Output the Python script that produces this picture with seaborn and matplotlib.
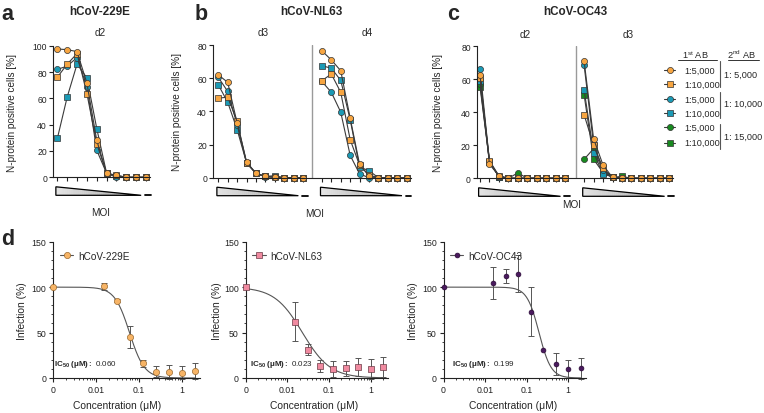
import numpy as np
import pandas as pd
import matplotlib
matplotlib.use("Agg")
import matplotlib.pyplot as plt
import seaborn as sns
from matplotlib.lines import Line2D
from matplotlib.patches import Polygon
from matplotlib import transforms as mtransforms
from matplotlib.colors import to_rgb
from matplotlib.ticker import LogLocator, NullFormatter, MultipleLocator

# ---------------- data ----------------
moi_pos = list(range(10))

# panel a: hCoV-229E, d2
a_o_circ = [97.5, 97, 95.5, 71.5, 28, 3, 1.5, 0, 0, 0]
a_o_sq   = [76, 86, 94, 63.5, 25.5, 3, 1.5, 0, 0, 0]
a_t_circ = [82, 84.5, 91, 68.5, 20.5, 3, 0, 0, 0, 0]
a_t_sq   = [29.5, 61, 86, 75.5, 37, 3, 1, 0, 0, 0]

# panel b: hCoV-NL63, d3 / d4
b3_o_circ = [62, 57.5, 33, 9.6, 2.6, 0.8, 0.3, 0, 0, 0]
b3_o_sq   = [48, 48.5, 34, 9.0, 2.6, 0.8, 0.3, 0, 0, 0]
b3_t_circ = [60.5, 52, 32, 8.8, 2.6, 0.5, 0.3, 0, 0, 0]
b3_t_sq   = [56, 45.5, 29, 9.0, 2.6, 0.8, 1.2, 0, 0, 0]
b4_o_circ = [76.5, 71, 64.5, 36, 8, 1, 0, 0, 0, 0]
b4_o_sq   = [58.5, 62.5, 51.5, 23, 7.5, 1.6, 0, 0, 0, 0]
b4_t_circ = [58, 51.5, 39.5, 13.5, 2.3, 0, 0, 0, 0, 0]
b4_t_sq   = [67.5, 66, 58.7, 35, 6.5, 4.2, 0, 0, 0, 0]

# panel c: hCoV-OC43, d2 / d3
c2_o_circ = [62.5, 8.5, 1.5, 0, 0, 0, 0, 0, 0, 0]
c2_o_sq   = [61, 10.7, 1.5, 0, 0, 0, 0, 0, 0, 0]
c2_t_circ = [66, 10, 1, 0, 0, 0, 0, 0, 0, 0]
c2_t_sq   = [59, 10, 1, 0, 0, 0, 0, 0, 0, 0]
c2_g_circ = [57, 10, 1, 0, 3.3, 0, 0, 0, 0, 0]
c2_g_sq   = [55.5, 10, 1, 0, 0, 0, 0, 0, 0, 0]
c3_o_circ = [71, 24, 8, 0.5, 0, 0, 0, 0, 0, 0]
c3_o_sq   = [38.5, 20, 6, 0.5, 0, 0, 0, 0, 0, 0]
c3_t_circ = [68.5, 20.5, 5, 0.5, 0, 0, 0, 0, 0, 0]
c3_t_sq   = [53.5, 15.5, 2.5, 1, 0, 0, 0, 0, 0, 0]
c3_g_circ = [11.5, 18, 4, 0.5, 0, 0, 0, 0, 0, 0]
c3_g_sq   = [50.5, 11.5, 3.5, 0.5, 1.2, 0, 0, 0, 0, 0]

legend_first_ab = ["1:5,000", "1:10,000", "1:5,000", "1:10,000", "1:5,000", "1:10,000"]
legend_second_ab = ["1: 5,000", "1: 10,000", "1: 15,000"]

# panel d: dose response
conc = [0, 0.015625, 0.03125, 0.0625, 0.125, 0.25, 0.5, 1, 2]
e229_mean = [100, 101, 85, 45.5, 16, 7, 6.5, 6, 7.5]
e229_sd   = [0, 4, 1.5, 12, 3.5, 6, 7.5, 7.5, 9]
nl63_mean = [100, 62, 31, 13.5, 10, 10.6, 12, 9.5, 12]
nl63_sd   = [0, 21.5, 6, 6.5, 8.5, 8.5, 9.5, 11, 11]
oc43_mean = [100, 104.5, 112.5, 115, 73, 31, 15.5, 9.5, 10.5]
oc43_sd   = [0, 18, 8, 20, 27, 0, 12, 10, 12]
ic50 = {"hCoV-229E": 0.060, "hCoV-NL63": 0.023, "hCoV-OC43": 0.199}
hill = {"hCoV-229E": 2.5, "hCoV-NL63": 1.3, "hCoV-OC43": 3.0}

# ---------------- style ----------------
sns.set_style("ticks")
plt.rcParams["font.family"] = ["Liberation Sans", "DejaVu Sans"]
plt.rcParams["mathtext.fontset"] = "custom"
plt.rcParams["mathtext.rm"] = "Liberation Sans"
plt.rcParams["mathtext.bf"] = "Liberation Sans:bold"
plt.rcParams["mathtext.it"] = "Liberation Sans:italic"

COL = {"o": "#F7A541", "t": "#1B9AB5", "g": "#188A1F"}
MK = {"circ": "o", "sq": "s"}
LINE_C = "#3a3a3a"
EDGE_C = "#333333"

W, H = 764, 414
fig = plt.figure(figsize=(W / 100, H / 100), dpi=100)


def rect(l, t, r, b):
    return [l / W, 1 - b / H, (r - l) / W, (b - t) / H]


def ftext(x, y, s, **kw):
    return fig.text(x / W, 1 - y / H, s, **kw)


ax_a = fig.add_axes(rect(53.3, 46.7, 150.5, 178.3))
ax_b = fig.add_axes(rect(213.3, 46.0, 411.0, 178.7))
ax_c = fig.add_axes(rect(477.0, 47.3, 672.7, 179.3))
ax_d1 = fig.add_axes(rect(53.3, 242.7, 200.3, 379.0))
ax_d2 = fig.add_axes(rect(245.7, 242.7, 388.5, 379.0))
ax_d3 = fig.add_axes(rect(443.5, 242.7, 586.0, 379.0))


def draw_series(ax, xs, ys, col, mk):
    df = pd.DataFrame({"x": xs, "y": ys})
    sns.lineplot(data=df, x="x", y="y", ax=ax, color=LINE_C, linewidth=0.8,
                 marker=MK[mk], markersize=4.4 if mk == "circ" else 4.1,
                 markerfacecolor=COL[col], markeredgecolor=EDGE_C,
                 markeredgewidth=0.5, clip_on=False, estimator=None,
                 errorbar=None, legend=False)


def style_top(ax, ymax, xlim, ticks):
    ax.set_ylim(0, ymax)
    ax.set_xlim(*xlim)
    ax.set_yticks(np.arange(0, ymax + 1, 20))
    ax.set_xticks(ticks)
    ax.set_xticklabels([])
    ax.tick_params(axis="both", direction="out", length=3, width=0.8,
                   labelsize=6.2, pad=1.5, colors="#222222")
    for s in ["top", "right"]:
        ax.spines[s].set_visible(False)
    for s in ["left", "bottom"]:
        ax.spines[s].set_linewidth(0.8)
        ax.spines[s].set_color("#222222")
    ax.set_xlabel("")
    ax.set_ylabel("")


def wedge(ax, start):
    h_px = ax.get_position().height * H
    trans = mtransforms.blended_transform_factory(ax.transData, ax.transAxes)
    x0, x1 = start - 0.15, start + 8.5
    yt, yb = -9.5 / h_px, -18.0 / h_px
    n = 40
    c0, c1 = np.array(to_rgb("#e4e4e4")), np.array(to_rgb("#a4a4a4"))
    for i in range(n):
        fa, fb = i / n, (i + 1) / n
        xa, xb = x0 + (x1 - x0) * fa, x0 + (x1 - x0) * fb
        ya, yb2 = yb + (yt - yb) * (1 - fa), yb + (yt - yb) * (1 - fb)
        col = c0 + (c1 - c0) * (fa + fb) / 2
        ax.add_patch(Polygon([(xa, yb), (xb, yb), (xb, yb2), (xa, ya)], closed=True,
                             transform=trans, facecolor=col, edgecolor=col, lw=0.3,
                             clip_on=False))
    ax.add_patch(Polygon([(x0, yb), (x1, yb), (x0, yt)], closed=True, transform=trans,
                         facecolor="none", edgecolor="#000000", lw=0.9, clip_on=False))
    ax.add_line(Line2D([start + 8.9, start + 9.5], [yb, yb], transform=trans,
                       color="#000000", lw=1.3, clip_on=False))


order = [("g", "sq"), ("g", "circ"), ("t", "sq"), ("t", "circ"), ("o", "sq"), ("o", "circ")]

# ---- panel a ----
a_series = {("o", "circ"): a_o_circ, ("o", "sq"): a_o_sq,
            ("t", "circ"): a_t_circ, ("t", "sq"): a_t_sq}
for key in order:
    if key in a_series:
        draw_series(ax_a, moi_pos, a_series[key], *key)
style_top(ax_a, 100, (-0.41, 9.45), moi_pos)
wedge(ax_a, 0)

# ---- panel b ----
pos_d4 = [p + 11 for p in moi_pos]
b3 = {("o", "circ"): b3_o_circ, ("o", "sq"): b3_o_sq,
      ("t", "circ"): b3_t_circ, ("t", "sq"): b3_t_sq}
b4 = {("o", "circ"): b4_o_circ, ("o", "sq"): b4_o_sq,
      ("t", "circ"): b4_t_circ, ("t", "sq"): b4_t_sq}
for key in order:
    if key in b3:
        draw_series(ax_b, moi_pos, b3[key], *key)
        draw_series(ax_b, pos_d4, b4[key], *key)
style_top(ax_b, 80, (-0.53, 20.46), moi_pos + pos_d4)
ax_b.axvline(10, color="#9a9a9a", lw=1.0, zorder=0.5)
wedge(ax_b, 0)
wedge(ax_b, 11)

# ---- panel c ----
c2 = {("o", "circ"): c2_o_circ, ("o", "sq"): c2_o_sq, ("t", "circ"): c2_t_circ,
      ("t", "sq"): c2_t_sq, ("g", "circ"): c2_g_circ, ("g", "sq"): c2_g_sq}
c3 = {("o", "circ"): c3_o_circ, ("o", "sq"): c3_o_sq, ("t", "circ"): c3_t_circ,
      ("t", "sq"): c3_t_sq, ("g", "circ"): c3_g_circ, ("g", "sq"): c3_g_sq}
for key in order:
    draw_series(ax_c, moi_pos, c2[key], *key)
    draw_series(ax_c, pos_d4, c3[key], *key)
style_top(ax_c, 80, (-0.32, 20.36), moi_pos + pos_d4)
ax_c.axvline(10.1, color="#9a9a9a", lw=1.0, zorder=0.5)
wedge(ax_c, 0)
wedge(ax_c, 11)

# ---- top labels ----
ylab = "N-protein positive cells [%]"
ftext(12, 112.5, ylab, rotation=90, ha="center", va="center", fontsize=7.2)
ftext(177, 112.3, ylab, rotation=90, ha="center", va="center", fontsize=7.2)
ftext(438, 113.3, ylab, rotation=90, ha="center", va="center", fontsize=7.2)
ftext(101, 213, "MOI", ha="center", va="center", fontsize=7.2)
ftext(315, 214, "MOI", ha="center", va="center", fontsize=7.2)
ftext(572, 205, "MOI", ha="center", va="center", fontsize=7.2)
ftext(100, 33, "d2", ha="center", va="center", fontsize=7.2)
ftext(263, 33, "d3", ha="center", va="center", fontsize=7.2)
ftext(366.7, 33, "d4", ha="center", va="center", fontsize=7.2)
ftext(525, 34.5, "d2", ha="center", va="center", fontsize=7.2)
ftext(628, 34.5, "d3", ha="center", va="center", fontsize=7.2)
ftext(100, 15, "hCoV-229E", ha="center", va="baseline", fontsize=8.4, fontweight="bold")
ftext(311.7, 15, "hCoV-NL63", ha="center", va="baseline", fontsize=8.4, fontweight="bold")
ftext(575, 15, "hCoV-OC43", ha="center", va="baseline", fontsize=8.4, fontweight="bold")
ftext(1.5, 20, "a", ha="left", va="baseline", fontsize=15.5, fontweight="bold")
ftext(194.5, 20.5, "b", ha="left", va="baseline", fontsize=15.5, fontweight="bold")
ftext(447, 20, "c", ha="left", va="baseline", fontsize=15.5, fontweight="bold")
ftext(1.5, 245, "d", ha="left", va="baseline", fontsize=15.5, fontweight="bold")

# ---- custom legend for panel c ----
ftext(695, 55, r"1$^{\mathrm{st}}$ AB", ha="center", va="center", fontsize=6.6)
ftext(741.7, 55, r"2$^{\mathrm{nd}}$ AB", ha="center", va="center", fontsize=6.6)


def fline(x0, y0, x1, y1, **kw):
    fig.add_artist(Line2D([x0 / W, x1 / W], [1 - y0 / H, 1 - y1 / H],
                          transform=fig.transFigure, **kw))


fline(678.3, 61.2, 716.7, 61.2, color="#333333", lw=0.7)
fline(728.3, 61.2, 759.3, 61.2, color="#333333", lw=0.7)
entry_keys = [("o", "circ"), ("o", "sq"), ("t", "circ"), ("t", "sq"), ("g", "circ"), ("g", "sq")]
entry_y = [71, 85, 100, 114.3, 128.3, 143.5]
for (col, mk), yy, lab in zip(entry_keys, entry_y, legend_first_ab):
    fline(664, yy, 675, yy, color=LINE_C, lw=0.8)
    fig.add_artist(Line2D([669.5 / W], [1 - yy / H], transform=fig.transFigure,
                          marker=MK[mk], markersize=4.4 if mk == "circ" else 4.1,
                          markerfacecolor=COL[col], markeredgecolor=EDGE_C,
                          markeredgewidth=0.5, linestyle="none"))
    ftext(684, yy, lab, ha="left", va="center", fontsize=6.6)
for (y0, y1), yt, lab in zip([(62, 87.5), (93, 118.5), (125, 150)], [75, 104.3, 137.7],
                             legend_second_ab):
    fline(720, y0, 720, y1, color="#555555", lw=0.8)
    ftext(723.5, yt, lab, ha="left", va="center", fontsize=6.6)

# ---- panel d ----
ZERO_POS = 0.001
conc_plot = [c if c > 0 else ZERO_POS for c in conc]
d_specs = [
    (ax_d1, "hCoV-229E", e229_mean, e229_sd, "o", "#F7B466", "#9a6a30", 20, 0.007, 0.060),
    (ax_d2, "hCoV-NL63", nl63_mean, nl63_sd, "s", "#F08AA0", "#6a3a44", 18, 0.030, 0.023),
    (ax_d3, "hCoV-OC43", oc43_mean, oc43_sd, "o", "#4A1A5E", "#2a0a36", 12, 0.058, 0.199),
]
xs_fit = np.logspace(np.log10(ZERO_POS), np.log10(2), 300)
for ax, name, mean, sd, mk, fc, ec, s, ic_x, icv in d_specs:
    ax.set_xscale("log")
    ys_fit = 100 / (1 + (xs_fit / ic50[name]) ** hill[name])
    sns.lineplot(x=xs_fit, y=ys_fit, ax=ax, color="#555555", linewidth=0.8,
                 estimator=None, errorbar=None, legend=False)
    nz = [i for i in range(len(conc)) if sd[i] > 0]
    ax.errorbar([conc_plot[i] for i in nz], [mean[i] for i in nz],
                yerr=[sd[i] for i in nz], fmt="none", ecolor="#555555",
                elinewidth=0.7, capsize=2.0, capthick=0.7, clip_on=False, zorder=2)
    sns.scatterplot(x=conc_plot, y=mean, ax=ax, marker=mk, s=s, color=fc,
                    edgecolor=ec, linewidth=0.5, clip_on=False, zorder=3, legend=False)
    ax.set_xlim(ZERO_POS, 10 ** 0.43)
    ax.set_ylim(0, 150)
    ax.set_yticks([0, 50, 100, 150])
    ax.yaxis.set_minor_locator(MultipleLocator(10))
    ax.set_xticks([ZERO_POS, 0.01, 0.1, 1])
    ax.set_xticklabels(["0", "0.01", "0.1", "1"])
    ax.xaxis.set_minor_locator(LogLocator(base=10, subs=np.arange(2, 10)))
    ax.xaxis.set_minor_formatter(NullFormatter())
    ax.tick_params(axis="both", which="major", direction="out", length=3, width=0.8,
                   labelsize=6.3, pad=2, colors="#222222")
    ax.tick_params(axis="both", which="minor", direction="out", length=1.7, width=0.6,
                   colors="#222222")
    for sp in ["top", "right"]:
        ax.spines[sp].set_visible(False)
    for sp in ["left", "bottom"]:
        ax.spines[sp].set_linewidth(0.8)
        ax.spines[sp].set_color("#222222")
    ax.set_xlabel("")
    ax.set_ylabel("")
    handle = Line2D([], [], color="#555555", lw=0.8, marker=mk,
                    markersize=np.sqrt(s), markerfacecolor=fc, markeredgecolor=ec,
                    markeredgewidth=0.5)
    ax.legend(handles=[handle], labels=[name], loc="upper left",
              bbox_to_anchor=(0.045, 0.935), borderaxespad=0, borderpad=0,
              frameon=False, handlelength=1.35, handletextpad=0.5, fontsize=7.2)
    ax.text(ic_x, 0.103, r"$\mathbf{IC_{50}\ (μM):}$ " + f"{icv:.3f}",
            transform=ax.transAxes, ha="left", va="center", fontsize=5.8)

for xc in [22, 216.5, 413]:
    ftext(xc, 311, "Infection (%)", rotation=90, ha="center", va="center", fontsize=7.4)
for xc in [117, 314, 513]:
    ftext(xc, 406, "Concentration (μM)", ha="center", va="center", fontsize=7.4)

fig.savefig("out.png", dpi=100)
